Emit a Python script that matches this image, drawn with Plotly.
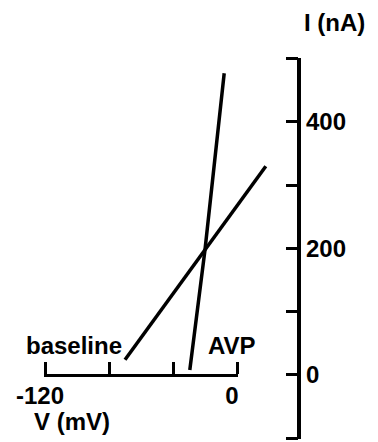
import plotly.graph_objects as go

# ---- data ----
baseline_v = [-70, -20, 18]
baseline_i = [24, 198, 330]
avp_v = [-29.5, -20, -8]
avp_i = [8, 198, 477]

x_tick_vals = [-120, -80, -40, 0]
x_tick_text = ["-120", "", "", "0"]
y_tick_vals = [-100, 0, 100, 200, 300, 400, 500]
y_tick_text = ["", "0", "", "200", "", "400", ""]

W, H = 378, 442
# pixel calibration of the page
X0_PX, PX_PER_MV = 237.0, 1.6
Y0_PX, PX_PER_NA = 375.0, 0.6325
YAXIS_V = 39.0  # vertical axis sits at about +39 mV
X_EPS, Y_EPS = 0.8, 1.9  # tiny padding so the end ticks are kept

def xfrac(v):
    return (X0_PX + PX_PER_MV * v) / W

def yfrac(i):
    return (H - (Y0_PX - PX_PER_NA * i)) / H

xr = [-X0_PX / PX_PER_MV, (W - X0_PX) / PX_PER_MV]
yr = [-(H - Y0_PX) / PX_PER_NA, Y0_PX / PX_PER_NA]
x2r = [x_tick_vals[0] - X_EPS, x_tick_vals[-1] + X_EPS]
y2r = [y_tick_vals[0] - Y_EPS, y_tick_vals[-1] + Y_EPS]

FONT = "Liberation Sans"
FS = 24

fig = go.Figure()
line_style = dict(color="black", width=3.5)
fig.add_trace(go.Scatter(x=baseline_v, y=baseline_i, mode="lines", line=line_style,
                         hoverinfo="skip", showlegend=False))
fig.add_trace(go.Scatter(x=avp_v, y=avp_i, mode="lines", line=line_style,
                         hoverinfo="skip", showlegend=False))
# invisible trace to create the subplot carrying the visible axes
fig.add_trace(go.Scatter(x=[-60], y=[200], mode="markers", marker=dict(opacity=0),
                         xaxis="x2", yaxis="y2", hoverinfo="skip", showlegend=False))

fig.update_layout(
    width=W, height=H, autosize=False, margin=dict(l=0, r=0, t=0, b=0, pad=0),
    paper_bgcolor="white", plot_bgcolor="rgba(0,0,0,0)",
    xaxis=dict(domain=[0, 1], range=xr, visible=False, fixedrange=True, automargin=False),
    yaxis=dict(domain=[0, 1], range=yr, visible=False, fixedrange=True, automargin=False),
    xaxis2=dict(
        domain=[xfrac(x2r[0]), xfrac(x2r[1])], range=x2r, anchor="free",
        position=yfrac(0), showline=True, linewidth=2.5, linecolor="black",
        ticks="inside", ticklen=12, tickwidth=3, tickcolor="black",
        tickvals=x_tick_vals, ticktext=x_tick_text, showgrid=False, zeroline=False,
        tickfont=dict(family=FONT, size=FS, color="black", weight="bold"),
        ticklabelshift=-5, ticklabelstandoff=-2, automargin=False, fixedrange=True,
    ),
    yaxis2=dict(
        domain=[yfrac(y2r[0]), yfrac(y2r[1])], range=y2r, anchor="free",
        position=xfrac(YAXIS_V), side="right", showline=True, linewidth=3.5,
        linecolor="black", ticks="inside", ticklen=12, tickwidth=3, tickcolor="black",
        tickvals=y_tick_vals, ticktext=y_tick_text, showgrid=False, zeroline=False,
        tickfont=dict(family=FONT, size=FS, color="black", weight="bold"),
        ticklabelstandoff=0, automargin=False, fixedrange=True,
    ),
)

annots = [
    ("baseline", -102, 47),
    ("AVP", -3, 47),
    ("V (mV)", -103, -74),
    ("I (nA)", 61, 557),
]
for txt, v, i in annots:
    fig.add_annotation(x=v, y=i, xref="x", yref="y", text=txt, showarrow=False,
                       font=dict(family=FONT, size=FS, color="black", weight="bold"),
                       xanchor="center", yanchor="middle")

fig.write_html("out.html")
